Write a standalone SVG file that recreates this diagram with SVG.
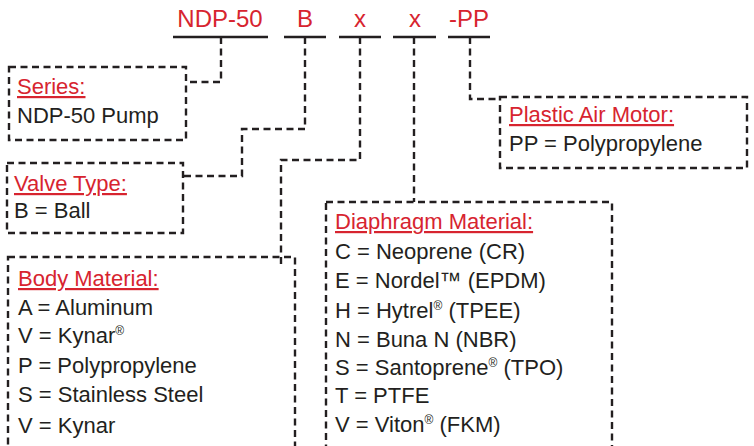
<svg xmlns="http://www.w3.org/2000/svg" width="754" height="446" viewBox="0 0 754 446">
<style>
.bg{fill:#ffffff}
.box{fill:none;stroke:#231f20;stroke-width:2.4;stroke-dasharray:7 4.5}
.conn{fill:none;stroke:#231f20;stroke-width:2.4;stroke-dasharray:7 4.5}
.rule{stroke:#231f20;stroke-width:2.4}
.hdr{font-family:"Liberation Sans",Arial,sans-serif;font-size:24px;fill:#d7242f;text-anchor:middle}
.ttl{font-family:"Liberation Sans",Arial,sans-serif;font-size:22px;fill:#d7242f;text-decoration:underline}
.txt{font-family:"Liberation Sans",Arial,sans-serif;font-size:22px;fill:#231f20}
.sup{font-size:12px}
</style>
<rect class="bg" x="0" y="0" width="754" height="446"/>
<g id="header">
<line class="rule" x1="173" y1="37" x2="268" y2="37"/>
<line class="rule" x1="284" y1="37" x2="326" y2="37"/>
<line class="rule" x1="339" y1="37" x2="381" y2="37"/>
<line class="rule" x1="393" y1="37" x2="436" y2="37"/>
<line class="rule" x1="448" y1="37" x2="490" y2="37"/>
<text class="hdr" x="220" y="27">NDP-50</text>
<text class="hdr" x="305" y="27">B</text>
<text class="hdr" x="360" y="27">x</text>
<text class="hdr" x="415" y="27">x</text>
<text class="hdr" x="469" y="27">-PP</text>
</g>
<g id="connectors">
<path class="conn" d="M221,37 V82 H186"/>
<path class="conn" d="M305,37 V129 H242 V176 H183"/>
<path class="conn" d="M360,37 V160 H281 V267"/>
<path class="conn" d="M414,37 V202"/>
<path class="conn" d="M470,37 V99 H500"/>
</g>
<g id="series">
<rect class="box" x="9" y="67" width="177" height="73"/>
<text class="ttl" x="17" y="94">Series:</text>
<text class="txt" x="17" y="123">NDP-50 Pump</text>
</g>
<g id="valve-type">
<rect class="box" x="7" y="163" width="176" height="70"/>
<text class="ttl" x="14" y="191">Valve Type:</text>
<text class="txt" x="14" y="218">B = Ball</text>
</g>
<g id="body-material">
<rect class="box" x="8" y="257" width="287" height="215"/>
<text class="ttl" x="18" y="286">Body Material:</text>
<text class="txt" x="18" y="315">A = Aluminum</text>
<text class="txt" x="18" y="343">V = Kynar<tspan class="sup" dy="-8">®</tspan></text>
<text class="txt" x="18" y="373">P = Polypropylene</text>
<text class="txt" x="18" y="402">S = Stainless Steel</text>
<text class="txt" x="18" y="433">V = Kynar</text>
</g>
<g id="diaphragm-material">
<rect class="box" x="326" y="202" width="286" height="270"/>
<text class="ttl" x="335" y="229">Diaphragm Material:</text>
<text class="txt" x="335" y="259">C = Neoprene (CR)</text>
<text class="txt" x="335" y="288">E = Nordel™ (EPDM)</text>
<text class="txt" x="335" y="318">H = Hytrel<tspan class="sup" dy="-8">®</tspan><tspan dy="8"> (TPEE)</tspan></text>
<text class="txt" x="335" y="347">N = Buna N (NBR)</text>
<text class="txt" x="335" y="375">S = Santoprene<tspan class="sup" dy="-8">®</tspan><tspan dy="8"> (TPO)</tspan></text>
<text class="txt" x="335" y="403">T = PTFE</text>
<text class="txt" x="335" y="432">V = Viton<tspan class="sup" dy="-8">®</tspan><tspan dy="8"> (FKM)</tspan></text>
</g>
<g id="plastic-air-motor">
<rect class="box" x="500" y="97" width="247" height="71"/>
<text class="ttl" x="509" y="122">Plastic Air Motor:</text>
<text class="txt" x="509" y="151">PP = Polypropylene</text>
</g>
</svg>
